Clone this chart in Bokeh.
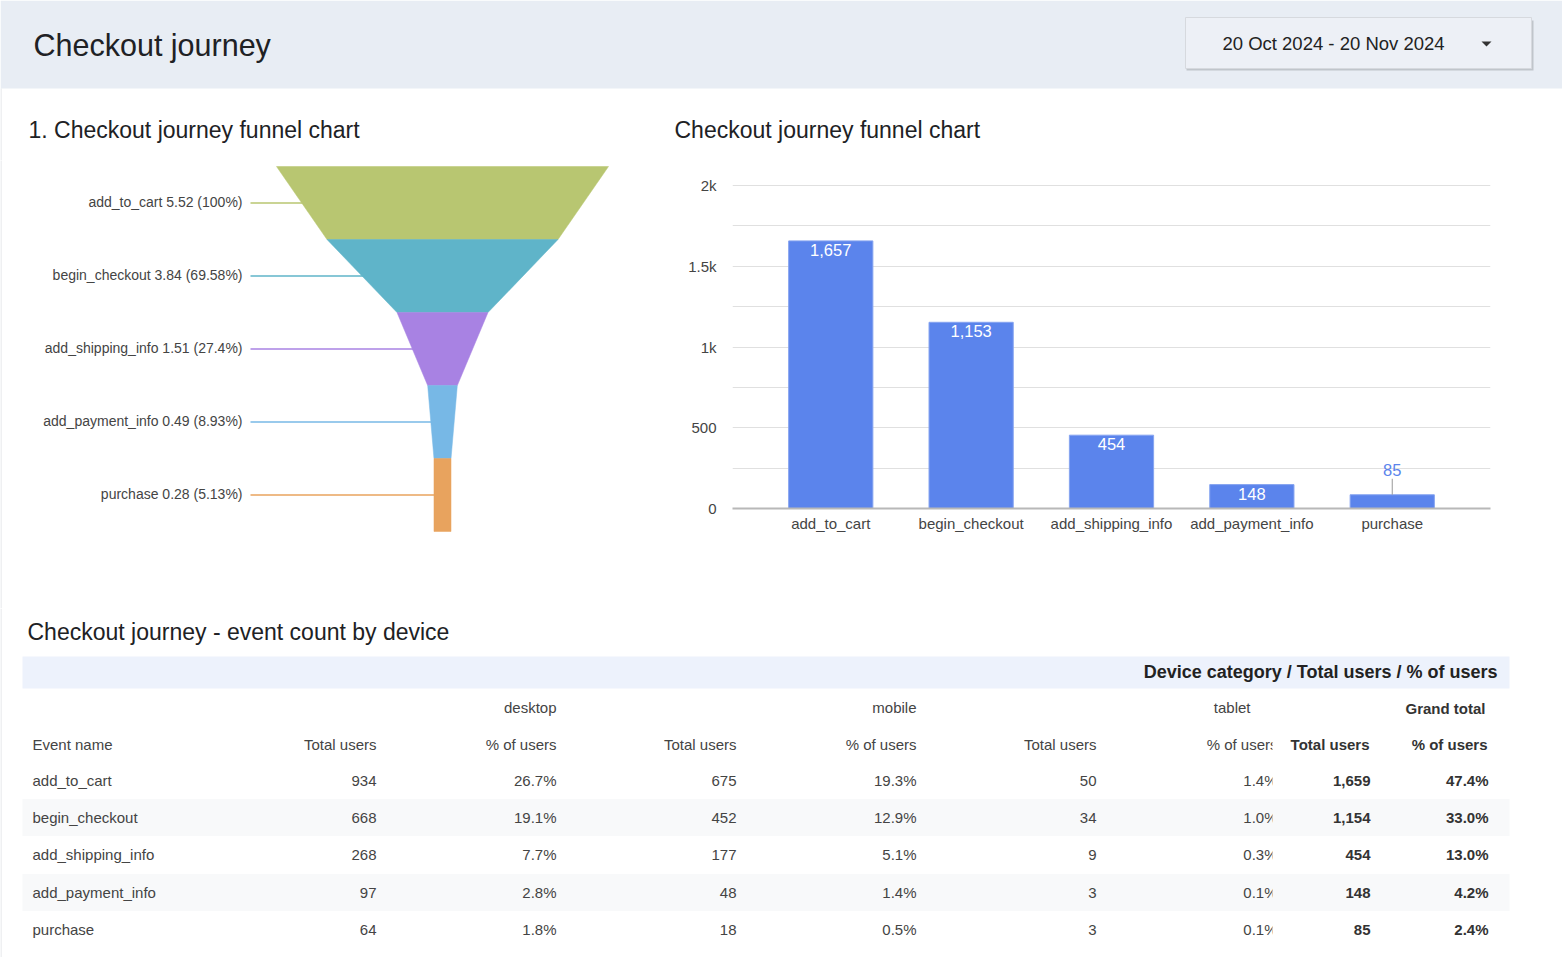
from bokeh.plotting import figure
from bokeh.models import Range1d, FactorRange, FixedTicker, NumeralTickFormatter, ColumnDataSource
from bokeh.layouts import column, row
from bokeh.embed import file_html
from bokeh.resources import INLINE
from bokeh.core.properties import value

# ---------------- data ----------------
stages = ["add_to_cart", "begin_checkout", "add_shipping_info", "add_payment_info", "purchase"]
stage_values = [5.52, 3.84, 1.51, 0.49, 0.28]
stage_pcts = [100, 69.58, 27.4, 8.93, 5.13]
stage_colors = ["#b8c671", "#5fb4c9", "#a882e3", "#77b8e6", "#e8a35e"]

bar_users = [1657, 1153, 454, 148, 85]
y_ticks = [0, 500, 1000, 1500, 2000]
y_grid = [0, 250, 500, 750, 1000, 1250, 1500, 1750, 2000]

desktop_users = [934, 668, 268, 97, 64]
desktop_pct = [26.7, 19.1, 7.7, 2.8, 1.8]
mobile_users = [675, 452, 177, 48, 18]
mobile_pct = [19.3, 12.9, 5.1, 1.4, 0.5]
tablet_users = [50, 34, 9, 3, 3]
tablet_pct = [1.4, 1.0, 0.3, 0.1, 0.1]
total_users = [1659, 1154, 454, 148, 85]
total_pct = [47.4, 33.0, 13.0, 4.2, 2.4]

date_range = "20 Oct 2024 - 20 Nov 2024"

FONT = value("Liberation Sans")
TXT = "#444444"
DARK = "#202124"
BOLD = "#333333"
BORDER = "#dfe1e5"


def canvas(w, h, x0, x1, y0, y1):
    p = figure(width=w, height=h, x_range=Range1d(x0, x1), y_range=Range1d(y0, y1),
               output_backend="svg", toolbar_location=None, min_border=0,
               x_axis_location=None, y_axis_location=None, title=None)
    p.grid.visible = False
    p.outline_line_color = None
    p.background_fill_color = "white"
    p.border_fill_color = "white"
    p.frame_align = False
    return p


def txt(p, x, y, s, size="15px", align="left", color=TXT, bold=False, baseline="middle"):
    p.text(x=[x], y=[y], text=[s], text_font=FONT, text_font_size=size,
           text_align=align, text_baseline=baseline, text_color=color,
           text_font_style="bold" if bold else "normal")


# ---------------- header + section titles ----------------
top = canvas(1562, 160, 0, 1562, 160, 0)
top.quad(left=0, right=1562, top=0, bottom=88, fill_color="#e8edf4", line_color=None)
top.segment(x0=0.5, y0=88, x1=0.5, y1=160, line_color=BORDER, line_width=1)
txt(top, 33, 44, "Checkout journey", size="30.5px", color=DARK)

# date selector
top.quad(left=1186, right=1533, top=20, bottom=70, fill_color="#b3b7be", line_color=None, fill_alpha=0.75)
top.quad(left=1185, right=1531, top=17, bottom=68, fill_color="#edf0f6", line_color="#d6d9de", line_width=1)
txt(top, 1333, 43, date_range, size="18.5px", align="center", color="#222222")
top.patch(x=[1481, 1491, 1486], y=[41, 41, 46], fill_color="#333333", line_color=None)

txt(top, 28, 129, "1. Checkout journey funnel chart", size="23px", color=DARK)
txt(top, 674, 129, "Checkout journey funnel chart", size="23px", color=DARK)

# ---------------- funnel ----------------
F_CENTER = 442.0   # pixel centre of the funnel
F_SCALE = 3.32     # pixels per percent of width
F_ROW = 73.0       # pixels per stage
F_TOP = 6.0        # pixels from top of panel to first stage
fun = canvas(640, 448,
             (0 - F_CENTER) / F_SCALE, (640 - F_CENTER) / F_SCALE,
             (448 - F_TOP) / F_ROW, -F_TOP / F_ROW)
fun.segment(x0=(0.5 - F_CENTER) / F_SCALE, y0=-1, x1=(0.5 - F_CENTER) / F_SCALE, y1=7,
            line_color=BORDER, line_width=1)

n = len(stages)
xs, ys = [], []
for i in range(n):
    w_top = stage_pcts[i]
    w_bot = stage_pcts[i + 1] if i + 1 < n else stage_pcts[i]
    xs.append([-w_top / 2, w_top / 2, w_bot / 2, -w_bot / 2])
    ys.append([i, i, i + 1, i + 1])

label_x = (242 - F_CENTER) / F_SCALE
lead_x = (250 - F_CENTER) / F_SCALE
mid = [i + 0.5 for i in range(n)]
fun.segment(x0=[lead_x] * n, y0=mid, x1=[0] * n, y1=mid, line_color=stage_colors, line_width=1.3)
fun.patches(xs=xs, ys=ys, fill_color=stage_colors, line_color=stage_colors, line_width=0.5)
labels = [f"{s} {v:.2f} ({p:g}%)" for s, v, p in zip(stages, stage_values, stage_pcts)]
fun.text(x=[label_x] * n, y=mid, text=labels, text_font=FONT, text_font_size="14px",
         text_align="right", text_baseline="middle", text_color=TXT, y_offset=-1)

# ---------------- bar chart ----------------
px_per_user = 323 / 2000
bar = figure(width=922, height=448, title=None,
             x_range=FactorRange(*stages, range_padding=0.2, range_padding_units="absolute"),
             y_range=Range1d(0, 2000 + 1 / px_per_user), output_backend="svg", toolbar_location=None,
             min_border_left=92, min_border_right=72, min_border_top=24, min_border_bottom=100)
bar.frame_align = False
bar.outline_line_color = None
bar.background_fill_color = "white"
bar.border_fill_color = "white"
bar.xgrid.visible = False
bar.ygrid.ticker = FixedTicker(ticks=y_grid)
bar.ygrid.grid_line_color = "#e0e0e0"
bar.yaxis.ticker = FixedTicker(ticks=y_ticks)
bar.yaxis.formatter = NumeralTickFormatter(format="0.[0]a")
bar.yaxis.axis_line_color = None
bar.yaxis.major_tick_line_color = None
bar.yaxis.minor_tick_line_color = None
bar.yaxis.major_label_standoff = 10
bar.xaxis.axis_line_color = "#b8b8b8"
bar.xaxis.axis_line_width = 2
bar.xaxis.major_tick_line_color = None
bar.xaxis.minor_tick_line_color = None
bar.xaxis.major_label_standoff = 0
for ax in (bar.xaxis, bar.yaxis):
    ax.major_label_text_font = "Liberation Sans"
    ax.major_label_text_font_size = "15px"
    ax.major_label_text_color = TXT

BAR_BLUE = "#5b84ec"
bar.vbar(x=stages, top=bar_users, width=0.6, fill_color=BAR_BLUE, line_color="#86a4f0", line_width=1)

inside = [v * px_per_user >= 20 for v in bar_users]
src_in = ColumnDataSource(dict(x=[s for s, k in zip(stages, inside) if k],
                               y=[v for v, k in zip(bar_users, inside) if k],
                               t=[f"{v:,}" for v, k in zip(bar_users, inside) if k]))
src_out = ColumnDataSource(dict(x=[s for s, k in zip(stages, inside) if not k],
                                y=[v for v, k in zip(bar_users, inside) if not k],
                                y1=[v + 16 / px_per_user for v, k in zip(bar_users, inside) if not k],
                                t=[f"{v:,}" for v, k in zip(bar_users, inside) if not k]))
bar.text(x="x", y="y", text="t", source=src_in, text_font=FONT, text_font_size="16.5px",
         text_align="center", text_baseline="top", text_color="white", y_offset=3)
bar.segment(x0="x", y0="y", x1="x", y1="y1", source=src_out, line_color="#999999", line_width=1)
bar.text(x="x", y="y", text="t", source=src_out, text_font=FONT, text_font_size="16.5px",
         text_align="center", text_baseline="bottom", text_color=BAR_BLUE, y_offset=-19)

# ---------------- device table ----------------
tab = canvas(1562, 349, 0, 1562, 957, 608)
tab.segment(x0=0.5, y0=608, x1=0.5, y1=957, line_color=BORDER, line_width=1)
txt(tab, 27, 631, "Checkout journey - event count by device", size="23px", color=DARK)
tab.quad(left=22, right=1509, top=656, bottom=688, fill_color="#edf2fc", line_color=None)
txt(tab, 1497, 671, "Device category / Total users / % of users", size="18px", bold=True,
    align="right", color="#222222")

row_y = [780, 817, 854, 892, 929]
STRIPE = "#f8f9fa"
for i, yc in enumerate(row_y):
    if i % 2 == 1:
        tab.quad(left=22, right=1509, top=yc - 18.5, bottom=yc + 18.5, fill_color=STRIPE, line_color=None)

txt(tab, 556, 707, "desktop", align="right")
txt(tab, 916, 707, "mobile", align="right")
txt(tab, 1250, 707, "tablet", align="right")
txt(tab, 1485, 708, "Grand total", align="right", bold=True, color=BOLD)

col_right = [376, 556, 736, 916, 1096, 1277]
head_y = 744
txt(tab, 32, head_y, "Event name")
for j, xr in enumerate(col_right):
    txt(tab, xr, head_y, "Total users" if j % 2 == 0 else "% of users", align="right")
txt(tab, 1369, head_y, "Total users", align="right", bold=True, color=BOLD)
txt(tab, 1487, head_y, "% of users", align="right", bold=True, color=BOLD)

cols = [
    ([f"{v:,}" for v in desktop_users], 376),
    ([f"{v:.1f}%" for v in desktop_pct], 556),
    ([f"{v:,}" for v in mobile_users], 736),
    ([f"{v:.1f}%" for v in mobile_pct], 916),
    ([f"{v:,}" for v in tablet_users], 1096),
    ([f"{v:.1f}%" for v in tablet_pct], 1277),
]
tab.text(x=[32] * len(stages), y=row_y, text=stages, text_font=FONT, text_font_size="15px",
         text_align="left", text_baseline="middle", text_color=TXT)
for vals, xr in cols:
    tab.text(x=[xr] * len(vals), y=row_y, text=vals, text_font=FONT, text_font_size="15px",
             text_align="right", text_baseline="middle", text_color=TXT)
tab.text(x=[1370] * 5, y=row_y, text=[f"{v:,}" for v in total_users], text_font=FONT,
         text_font_size="15px", text_align="right", text_baseline="middle",
         text_color=BOLD, text_font_style="bold")
tab.text(x=[1488] * 5, y=row_y, text=[f"{v:.1f}%" for v in total_pct], text_font=FONT,
         text_font_size="15px", text_align="right", text_baseline="middle",
         text_color=BOLD, text_font_style="bold")

# the narrow tablet % column clips its overflowing text
tab.quad(left=1272, right=1286, top=725, bottom=762, fill_color="white", line_color=None)
for i, yc in enumerate(row_y):
    tab.quad(left=1272, right=1286, top=yc - 18.5, bottom=yc + 18.5,
             fill_color=STRIPE if i % 2 == 1 else "white", line_color=None)

layout = column(top, row(fun, bar, spacing=0), tab, spacing=0)

with open("out.html", "w") as f:
    f.write(file_html(layout, INLINE, title="Checkout journey"))
